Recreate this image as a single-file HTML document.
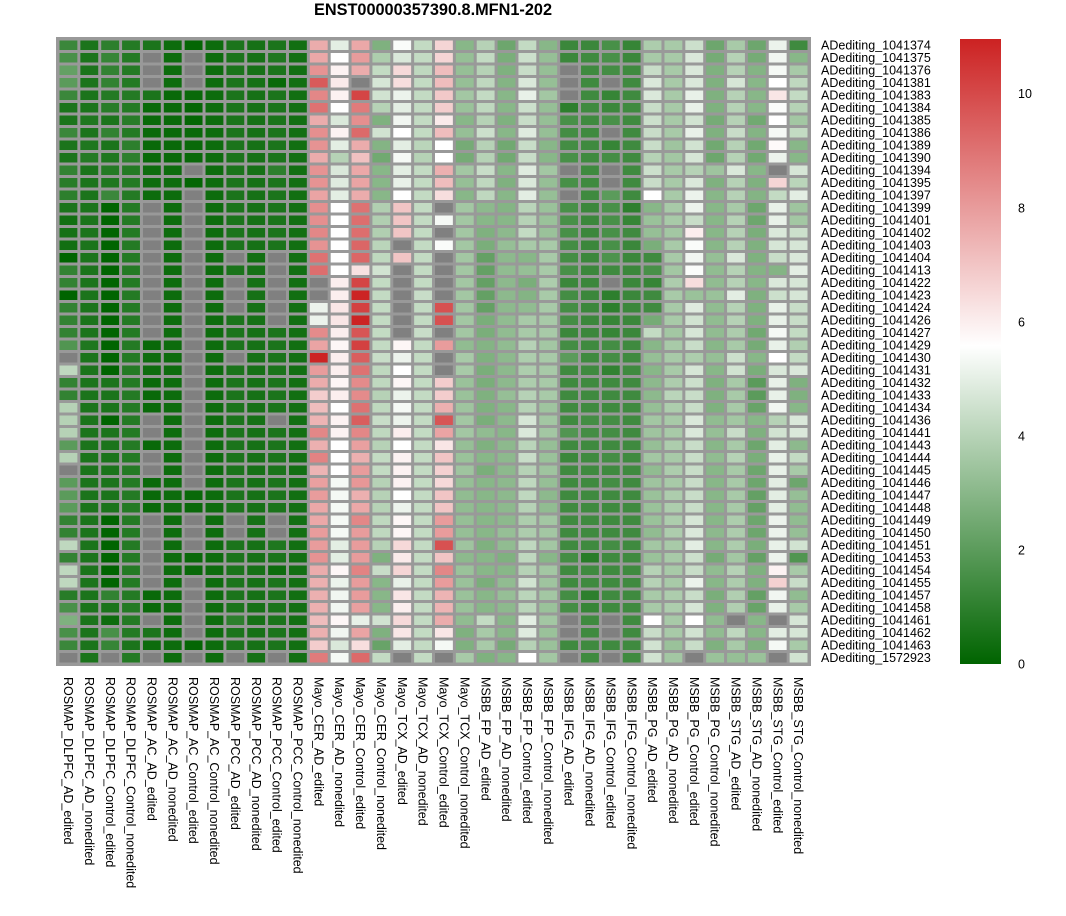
<!DOCTYPE html>
<html><head><meta charset="utf-8"><style>
body{margin:0;background:#fff;font-family:"Liberation Sans",sans-serif}
svg{display:block}
</style></head><body>
<svg id="chart" width="1066" height="916" xmlns="http://www.w3.org/2000/svg" font-family="Liberation Sans, sans-serif">
<text x="433" y="15" text-anchor="middle" font-size="16.3" font-weight="bold">ENST00000357390.8.MFN1-202</text>
<defs><linearGradient id="cb" x1="0" y1="1" x2="0" y2="0">
<stop offset="0" stop-color="#006400"/><stop offset="0.509" stop-color="#ffffff"/><stop offset="1" stop-color="#cc2222"/></linearGradient></defs>
<g id="cells"></g>
<g id="rowlabels"></g>
<g id="collabels"></g>
<rect x="960" y="39" width="41" height="625" fill="url(#cb)"/>
<g id="legendticks"></g>
</svg>
<script>
const cols=["ROSMAP_DLPFC_AD_edited","ROSMAP_DLPFC_AD_nonedited","ROSMAP_DLPFC_Control_edited","ROSMAP_DLPFC_Control_nonedited","ROSMAP_AC_AD_edited","ROSMAP_AC_AD_nonedited","ROSMAP_AC_Control_edited","ROSMAP_AC_Control_nonedited","ROSMAP_PCC_AD_edited","ROSMAP_PCC_AD_nonedited","ROSMAP_PCC_Control_edited","ROSMAP_PCC_Control_nonedited","Mayo_CER_AD_edited","Mayo_CER_AD_nonedited","Mayo_CER_Control_edited","Mayo_CER_Control_nonedited","Mayo_TCX_AD_edited","Mayo_TCX_AD_nonedited","Mayo_TCX_Control_edited","Mayo_TCX_Control_nonedited","MSBB_FP_AD_edited","MSBB_FP_AD_nonedited","MSBB_FP_Control_edited","MSBB_FP_Control_nonedited","MSBB_IFG_AD_edited","MSBB_IFG_AD_nonedited","MSBB_IFG_Control_edited","MSBB_IFG_Control_nonedited","MSBB_PG_AD_edited","MSBB_PG_AD_nonedited","MSBB_PG_Control_edited","MSBB_PG_Control_nonedited","MSBB_STG_AD_edited","MSBB_STG_AD_nonedited","MSBB_STG_Control_edited","MSBB_STG_Control_nonedited"];
const rows=["ADediting_1041374","ADediting_1041375","ADediting_1041376","ADediting_1041381","ADediting_1041383","ADediting_1041384","ADediting_1041385","ADediting_1041386","ADediting_1041389","ADediting_1041390","ADediting_1041394","ADediting_1041395","ADediting_1041397","ADediting_1041399","ADediting_1041401","ADediting_1041402","ADediting_1041403","ADediting_1041404","ADediting_1041413","ADediting_1041422","ADediting_1041423","ADediting_1041424","ADediting_1041426","ADediting_1041427","ADediting_1041429","ADediting_1041430","ADediting_1041431","ADediting_1041432","ADediting_1041433","ADediting_1041434","ADediting_1041436","ADediting_1041441","ADediting_1041443","ADediting_1041444","ADediting_1041445","ADediting_1041446","ADediting_1041447","ADediting_1041448","ADediting_1041449","ADediting_1041450","ADediting_1041451","ADediting_1041453","ADediting_1041454","ADediting_1041455","ADediting_1041457","ADediting_1041458","ADediting_1041461","ADediting_1041462","ADediting_1041463","ADediting_1572923"];
const N=null;
// left block: columns 0-17
const valuesLeft=[
[1.3,.6,1.0,.8,.6,.3,.1,.3,.6,.5,.6,.4,7.6,5.0,7.7,2.8,5.5,4.3],
[1.6,.6,1.2,.8,N,.3,N,.3,.6,.5,.7,.4,7.7,5.6,8.0,3.8,4.8,4.3],
[2.2,.6,1.1,.8,N,.3,N,.3,.6,.5,.6,.4,8.2,5.9,7.6,4.3,6.5,4.2],
[2.0,.6,1.1,.8,N,.3,N,.3,.6,.5,.2,.4,9.6,6.1,N,4.7,6.4,4.3],
[1.3,.6,.8,.8,.6,.2,.2,.3,.6,.5,.6,.4,8.5,5.9,10.1,4.6,5.2,4.3],
[.6,.6,.9,.8,.2,.2,.1,.3,.6,.5,.6,.4,9.0,5.6,8.8,4.0,5.0,4.3],
[.6,.7,.6,.9,.2,.2,.1,.3,.6,.5,.6,.4,7.6,4.8,8.3,2.8,5.3,4.3],
[1.3,.6,1.1,.8,.2,.2,.2,.3,.6,.5,.6,.4,8.3,5.9,9.2,4.6,5.6,4.3],
[.6,.7,.6,1.0,.2,.2,.2,.3,.6,.5,.6,.4,8.2,5.0,7.6,2.9,5.0,4.1],
[.6,.8,.7,1.0,.2,.2,.2,.3,.6,.5,.6,.4,7.6,4.0,7.1,2.5,5.4,4.0],
[1.1,.6,.8,.8,.3,.3,N,.3,.6,.5,1.0,.4,8.2,4.8,7.7,3.0,5.0,4.3],
[.9,.6,.7,.8,.3,.3,.1,.3,.6,.5,.6,.4,8.2,4.9,7.8,3.0,5.1,4.3],
[1.0,.6,1.3,.8,.3,.3,N,.3,.6,.5,.6,.4,7.8,5.0,7.6,3.0,5.6,4.3],
[.6,.6,0,.8,N,.3,N,.3,.6,.5,.6,.4,8.3,5.6,9.0,3.9,7.0,4.3],
[.4,.6,0,.8,N,.3,N,.3,.6,.5,.6,.4,8.3,5.6,9.1,3.9,7.0,4.3],
[.5,.6,0,.8,N,.3,N,.3,.6,.5,.6,.4,8.5,5.6,9.1,3.9,7.0,4.3],
[.4,.6,0,.8,N,.3,N,.3,.6,.5,.6,.4,8.2,5.6,9.3,4.1,N,4.3],
[0,.6,0,.8,N,.3,N,.3,N,.4,N,.4,9.0,5.6,9.3,4.2,7.0,4.3],
[1.1,.6,0,.8,N,.3,N,.3,.6,.5,N,.4,9.1,5.6,6.3,4.6,N,4.3],
[1.1,.6,0,.8,N,.3,N,.3,N,.5,N,.4,N,6.0,10.1,4.3,N,4.3],
[0,.6,0,.8,N,.3,N,.3,N,.5,N,.4,N,6.0,10.9,4.3,N,4.4],
[1.1,.6,0,.8,N,.3,N,.3,N,.5,N,.4,5.2,6.2,10.2,4.3,N,4.3],
[1.1,.6,0,.8,N,.3,N,.3,.6,.5,N,.4,5.2,6.2,10.9,4.3,N,4.3],
[1.1,.6,0,.8,N,.3,N,.3,.6,.5,.6,.4,8.4,6.0,9.7,4.3,N,4.4],
[1.8,.7,0,.8,.2,.3,N,.3,.6,.5,.6,.4,7.8,5.8,10.2,4.3,5.8,4.3],
[N,.6,0,.8,.3,.3,N,.3,N,.5,.6,.4,10.9,6.0,9.5,4.4,5.2,4.3],
[4.2,.6,0,.8,.3,.3,N,.3,.6,.5,.6,.4,8.0,6.0,9.0,4.2,5.6,4.3],
[1.1,.6,.6,.8,.2,.3,N,.3,.6,.5,.6,.4,7.6,5.8,8.4,4.2,5.8,4.3],
[1.1,.6,.6,.8,.2,.3,N,.3,.6,.5,.6,.4,6.8,6.0,8.4,4.0,5.2,4.3],
[4.0,.6,.6,.8,.2,.3,N,.3,.6,.5,.6,.4,7.2,5.6,9.0,4.2,5.4,4.3],
[4.0,.6,0,.8,N,.3,N,.3,.6,.5,N,.4,7.4,5.9,9.5,4.4,5.2,4.3],
[4.0,.6,.6,.8,N,.3,N,.3,.6,.5,.6,.4,8.5,5.9,8.5,4.2,6.0,4.3],
[2.0,.6,.6,.8,.2,.3,N,.3,.6,.5,.6,.4,7.5,5.6,7.9,4.0,5.6,4.3],
[4.0,.6,.6,.8,N,.3,N,.3,.6,.5,.6,.4,8.6,5.6,7.5,4.3,5.9,4.3],
[N,.6,.6,.8,N,.3,N,.3,.6,.5,.6,.4,7.4,5.6,8.0,4.3,5.9,4.3],
[2.0,.6,.6,.8,.2,.3,N,.3,.6,.5,.6,.4,7.9,5.4,8.1,4.0,5.9,4.3],
[2.0,.6,.6,.8,.2,.3,.2,.3,.6,.5,.6,.4,8.0,5.4,7.5,4.0,5.6,4.3],
[2.0,.6,.6,.8,.2,.3,.2,.3,.6,.5,.6,.4,7.7,5.4,7.7,4.0,5.2,4.3],
[1.1,.6,0,.8,N,.3,N,.3,N,.5,N,.4,7.7,5.4,8.5,4.2,5.8,4.3],
[1.1,.6,0,.8,N,.3,N,.3,N,.5,N,.4,8.0,5.4,8.0,4.2,5.8,4.3],
[4.2,.6,0,.8,N,.3,N,.3,.6,.5,.7,.4,8.0,5.0,8.0,4.0,6.5,4.3],
[1.1,.6,0,.8,N,.3,.2,.3,.6,.5,.6,.4,8.2,5.0,8.0,2.8,6.1,4.3],
[4.2,.6,0,.8,N,.3,.2,.3,.6,.5,.3,.4,7.6,5.8,8.6,4.4,6.6,4.3],
[4.2,.6,0,.8,N,.3,N,.3,.6,.5,.6,.4,7.5,5.2,8.0,3.0,5.1,4.3],
[.9,.6,1.1,.8,.2,.3,N,.3,.6,.5,.6,.4,7.5,5.3,8.0,3.0,6.2,4.3],
[1.6,.6,.6,.8,.2,.3,N,.3,.6,.5,.6,.4,7.5,5.3,7.9,3.0,6.0,4.3],
[2.8,.6,.3,.8,N,.3,N,.3,1.0,.5,.6,.4,7.2,5.8,5.1,4.6,6.5,4.3],
[1.6,.6,1.6,.8,.6,.3,N,.3,.6,.5,.6,.4,7.5,5.3,7.8,2.8,6.2,4.3],
[1.3,.6,1.2,.6,.3,.3,.1,.3,.6,.5,.6,.4,6.8,4.8,6.4,2.3,5.0,4.3],
[N,.6,N,.8,N,.3,N,.3,N,.5,N,.4,8.8,5.4,9.2,4.3,N,4.3]];
// right block: columns 18-35
const valuesRight=[
[6.6,3.0,4.0,2.4,4.3,3.0,1.3,1.3,1.6,1.2,3.8,3.7,4.5,2.4,3.7,2.4,5.2,1.4],
[6.6,3.3,4.3,2.7,4.5,3.3,1.3,1.4,1.6,1.3,3.7,3.7,4.8,2.6,4.0,2.6,5.3,3.0],
[7.2,3.3,4.0,2.8,4.4,3.3,N,1.4,1.5,1.4,4.4,3.7,4.8,2.8,4.0,2.9,5.4,3.7],
[7.2,3.3,4.2,2.9,4.8,3.3,N,1.4,N,1.4,4.8,3.7,4.8,2.8,4.7,3.0,5.6,4.2],
[6.9,3.6,4.3,3.0,5.1,3.6,N,1.4,1.2,1.4,4.8,3.7,5.1,2.8,4.0,3.0,6.2,4.3],
[6.8,3.4,4.2,3.0,4.5,3.3,1.0,1.4,1.3,1.4,4.4,3.7,5.1,2.8,4.0,3.0,5.5,4.0],
[6.1,3.0,4.0,2.8,4.4,3.3,1.6,1.4,1.6,1.4,4.5,3.7,4.6,2.6,4.0,2.5,5.6,3.6],
[7.2,3.3,4.5,3.0,4.9,3.3,1.5,1.4,N,1.4,4.4,3.7,5.1,2.8,4.4,2.9,5.4,4.3],
[5.6,2.6,4.0,2.5,4.4,3.0,1.5,1.4,1.2,1.4,4.4,3.5,4.6,2.5,4.0,2.5,5.7,3.0],
[5.6,2.6,4.0,2.5,4.4,3.0,1.6,1.4,1.5,1.4,4.0,3.6,4.7,2.4,4.0,2.5,5.2,3.0],
[7.5,3.6,4.4,3.0,4.9,3.6,N,1.4,N,1.4,4.5,3.7,4.0,3.5,4.8,3.0,N,4.7],
[7.2,3.3,4.2,2.8,4.8,3.3,1.6,1.4,N,1.4,4.4,3.7,4.8,2.8,4.0,2.8,6.6,4.1],
[6.4,3.0,4.2,3.0,5.0,3.3,N,1.4,2.0,1.4,5.6,3.7,5.2,3.0,4.0,2.9,4.3,5.0],
[N,3.6,3.1,2.9,4.1,3.4,1.6,1.3,1.6,1.0,3.0,3.7,5.2,3.0,3.7,2.4,5.1,3.5],
[5.4,3.6,3.0,3.0,4.0,3.4,1.6,1.3,1.6,1.2,3.4,3.7,4.4,3.0,4.0,2.4,5.1,3.6],
[N,3.6,2.8,3.1,4.3,3.4,1.6,1.3,1.6,1.4,3.3,3.6,6.0,3.0,4.0,2.7,4.8,4.5],
[5.5,3.6,2.7,3.3,3.7,3.7,1.5,1.3,1.6,1.3,2.7,3.7,5.5,3.0,4.0,2.8,4.7,4.7],
[N,3.6,2.2,3.1,3.0,3.7,1.5,1.3,1.7,1.3,1.4,3.7,5.3,3.3,4.8,2.8,4.4,4.8],
[N,3.6,2.2,3.2,3.3,3.7,1.6,1.3,1.4,1.3,1.6,3.6,5.5,3.2,4.0,2.9,2.9,5.0],
[N,3.6,2.2,3.1,2.7,3.8,1.3,1.3,N,1.3,1.2,3.8,6.4,3.2,4.0,3.0,4.8,4.7],
[N,3.6,2.2,3.1,2.9,3.7,1.5,1.3,1.0,1.3,1.4,3.7,3.4,3.4,5.0,2.8,4.5,4.7],
[9.8,3.6,2.2,3.1,3.2,3.7,1.5,1.3,1.0,1.3,1.4,3.7,4.9,3.2,4.0,2.8,5.1,4.4],
[9.8,3.6,2.7,3.2,3.7,3.7,1.5,1.3,1.2,1.3,2.6,3.7,4.6,3.2,4.0,2.8,5.1,4.4],
[N,3.6,2.7,3.2,3.7,3.7,1.3,1.3,1.2,1.3,4.3,3.6,4.7,3.2,3.8,2.5,5.4,4.3],
[8.0,3.2,2.9,3.2,4.0,3.6,1.5,1.4,1.5,1.4,3.0,3.7,4.4,3.0,3.7,2.6,5.1,3.9],
[N,3.7,2.8,3.1,3.8,3.7,2.0,1.4,1.5,1.4,3.3,3.7,3.8,3.3,4.5,3.0,5.6,4.3],
[N,3.7,2.7,3.1,3.8,3.7,1.4,1.4,1.1,1.4,3.0,3.7,4.7,3.0,4.6,2.7,4.8,4.8],
[6.8,3.4,2.7,3.1,3.8,3.7,1.4,1.4,1.4,1.4,3.1,3.8,4.5,2.8,3.7,2.0,5.1,2.8],
[6.8,3.4,2.8,3.3,4.0,3.7,1.4,1.4,1.4,1.4,3.1,4.1,4.4,2.8,3.7,2.0,5.1,2.8],
[7.5,3.5,2.8,3.0,4.0,3.5,1.4,1.4,1.4,1.4,3.3,3.8,4.4,2.8,3.7,2.3,5.3,3.0],
[9.7,3.6,2.7,3.1,4.7,3.6,1.4,1.5,1.5,1.4,3.6,3.7,4.8,3.2,3.6,3.0,4.0,4.8],
[7.8,3.6,3.2,3.0,4.8,3.6,1.8,1.5,1.5,1.4,3.5,3.7,4.8,3.3,4.4,2.8,4.6,4.8],
[6.2,3.3,2.8,3.1,4.1,3.3,1.4,1.4,1.4,1.4,3.3,3.8,4.4,3.0,3.7,2.4,5.0,3.1],
[7.0,3.4,3.0,3.1,4.4,3.4,1.3,1.4,1.5,1.4,3.6,3.7,4.4,3.2,4.0,2.7,5.1,4.3],
[6.7,3.5,2.7,3.1,4.0,3.5,1.4,1.4,1.4,1.4,3.2,3.8,4.4,3.0,3.7,2.4,5.1,3.7],
[6.5,3.3,3.0,3.1,4.2,3.3,1.4,1.4,1.5,1.4,3.5,3.7,4.4,3.0,3.7,2.4,5.0,2.4],
[7.0,3.2,3.0,3.1,4.2,3.1,1.4,1.4,1.4,1.4,3.4,3.8,4.4,3.0,3.7,2.2,5.0,3.3],
[7.0,3.2,3.0,3.1,4.0,3.2,1.4,1.4,1.4,1.4,3.4,3.8,4.4,3.0,3.7,2.2,5.0,3.2],
[8.0,3.3,3.0,3.1,3.8,3.6,1.4,1.4,1.4,1.4,3.4,3.8,4.7,3.0,3.8,2.4,5.2,3.2],
[8.0,3.3,3.0,3.3,3.8,3.6,1.4,1.4,1.4,1.4,3.2,3.8,4.8,3.1,3.8,2.4,5.2,3.3],
[9.8,3.5,2.8,3.2,4.2,3.6,1.4,1.4,1.5,1.4,3.6,3.7,5.0,3.0,3.8,2.7,5.1,4.6],
[7.0,3.1,3.0,2.8,4.2,3.0,1.5,0.9,1.4,1.4,3.4,3.7,4.5,2.6,3.6,2.2,5.2,1.8],
[8.5,3.4,3.0,3.0,4.0,3.6,1.4,1.4,1.4,1.4,4.0,3.7,4.4,3.2,4.0,2.8,5.9,3.7],
[8.0,3.4,2.7,3.2,4.6,3.5,1.4,1.4,1.4,1.4,4.0,3.7,5.2,3.0,3.8,2.8,6.7,4.4],
[7.4,3.4,3.0,3.3,4.1,3.6,1.5,1.0,1.4,1.4,3.7,3.8,4.4,2.7,3.9,2.2,5.3,3.2],
[7.4,3.4,3.0,3.1,4.1,3.4,1.5,1.2,1.4,1.4,3.7,3.8,4.7,2.8,3.9,2.3,5.1,3.7],
[7.6,3.2,4.3,3.0,5.0,3.6,N,1.4,N,1.4,5.6,3.7,5.6,3.2,N,3.0,N,4.7],
[6.2,2.8,3.7,3.0,4.9,3.4,N,1.4,N,1.4,4.4,3.7,4.6,3.2,4.2,3.0,5.0,4.7],
[5.4,2.8,3.7,2.6,4.0,3.4,1.4,1.4,1.4,1.4,4.6,3.4,4.4,2.8,3.7,2.8,5.4,3.7],
[N,3.7,2.8,3.0,5.6,3.6,N,1.4,N,1.4,4.6,3.6,N,3.4,3.3,3.4,N,4.6]];
const legendTicks=[0,2,4,6,8,10];
const VMIN=0,VMID=5.6,VMAX=10.96;
const X0=58,X1=809,Y0=39,Y1=664;
const cw=(X1-X0)/cols.length, rh=(Y1-Y0)/rows.length;
const xPos=i=>X0+i*cw, yPos=j=>Y0+j*rh;
const legendY=v=>664-(v-VMIN)/(VMAX-VMIN)*625;
function color(v){
  if(v===null)return "#808080";
  let r,g,b;
  if(v<=VMID){const t=Math.max(0,(v-VMIN)/(VMID-VMIN));r=255*t;g=100+155*t;b=255*t;}
  else{const t=Math.min(1,(v-VMID)/(VMAX-VMID));r=255-51*t;g=255-221*t;b=255-221*t;}
  return `rgb(${r|0},${g|0},${b|0})`;
}
const NS="http://www.w3.org/2000/svg";
const cells=document.getElementById('cells');
const bg=document.createElementNS(NS,'rect');


bg.setAttribute('x',X0-2);bg.setAttribute('y',Y0-2);bg.setAttribute('width',X1-X0+4);bg.setAttribute('height',Y1-Y0+4);bg.setAttribute('fill','#999999');
cells.appendChild(bg);
rows.forEach((rn,j)=>{
  const row=valuesLeft[j].concat(valuesRight[j]);
  row.forEach((v,i)=>{
    const r=document.createElementNS(NS,'rect');
    
    
    r.setAttribute('x',(xPos(i)+1.5).toFixed(2));r.setAttribute('y',(yPos(j)+1.5).toFixed(2));
    r.setAttribute('width',(cw-3).toFixed(2));r.setAttribute('height',(rh-3).toFixed(2));
    r.setAttribute('fill',color(v));
    cells.appendChild(r);
  });
  const t=document.createElementNS(NS,'text');
  
  
  t.setAttribute('x',821);t.setAttribute('y',(yPos(j)+rh/2+4.4).toFixed(2));t.setAttribute('font-size','12.5');
  t.textContent=rn;document.getElementById('rowlabels').appendChild(t);
});
cols.forEach((cn,i)=>{
  const t=document.createElementNS(NS,'text');
  
  
  const x=xPos(i)+cw/2-4.4, y=677;
  t.setAttribute('x',x.toFixed(2));t.setAttribute('y',y);t.setAttribute('font-size','12.5');
  t.setAttribute('transform',`rotate(90 ${x.toFixed(2)} ${y})`);
  t.textContent=cn;document.getElementById('collabels').appendChild(t);
});
legendTicks.forEach(v=>{
  const t=document.createElementNS(NS,'text');
  
  
  t.setAttribute('x',1018);t.setAttribute('y',(legendY(v)+4.5).toFixed(2));t.setAttribute('font-size','12.5');
  t.textContent=v;document.getElementById('legendticks').appendChild(t);
});
</script>
</body></html>
